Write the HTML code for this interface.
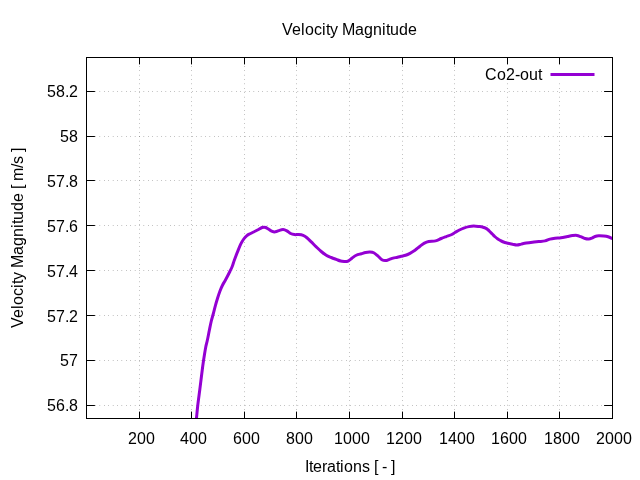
<!DOCTYPE html>
<html><head><meta charset="utf-8"><title>Velocity Magnitude</title><style>html,body{margin:0;padding:0;background:#fff}body{width:640px;height:480px;overflow:hidden}</style></head><body>
<svg width="640" height="480" viewBox="0 0 640 480" style="display:block">
<rect width="640" height="480" fill="#fff"/>
<g stroke="#000" stroke-width="0.6" stroke-dasharray="0.4 4" fill="none">
<path d="M86.5 91.5H612.5"/>
<path d="M86.5 136.5H612.5"/>
<path d="M86.5 180.5H612.5"/>
<path d="M86.5 225.5H612.5"/>
<path d="M86.5 270.5H612.5"/>
<path d="M86.5 315.5H612.5"/>
<path d="M86.5 360.5H612.5"/>
<path d="M86.5 405.5H612.5"/>
<path d="M139.5 418.5V57.5"/>
<path d="M191.5 418.5V57.5"/>
<path d="M244.5 418.5V57.5"/>
<path d="M296.5 418.5V57.5"/>
<path d="M349.5 418.5V57.5"/>
<path d="M402.5 418.5V57.5"/>
<path d="M454.5 418.5V57.5"/>
<path d="M507.5 418.5V57.5"/>
<path d="M559.5 418.5V57.5"/>
</g>
<rect x="470" y="58" width="142" height="25" fill="#fff"/>
<g stroke="#000" stroke-width="1" fill="none">
<path d="M86.5 91.5h8.4M612.5 91.5h-8.4"/>
<path d="M86.5 136.5h8.4M612.5 136.5h-8.4"/>
<path d="M86.5 180.5h8.4M612.5 180.5h-8.4"/>
<path d="M86.5 225.5h8.4M612.5 225.5h-8.4"/>
<path d="M86.5 270.5h8.4M612.5 270.5h-8.4"/>
<path d="M86.5 315.5h8.4M612.5 315.5h-8.4"/>
<path d="M86.5 360.5h8.4M612.5 360.5h-8.4"/>
<path d="M86.5 405.5h8.4M612.5 405.5h-8.4"/>
<path d="M139.5 418.5v-6.9M139.5 57.5v6.9"/>
<path d="M191.5 418.5v-6.9M191.5 57.5v6.9"/>
<path d="M244.5 418.5v-6.9M244.5 57.5v6.9"/>
<path d="M296.5 418.5v-6.9M296.5 57.5v6.9"/>
<path d="M349.5 418.5v-6.9M349.5 57.5v6.9"/>
<path d="M402.5 418.5v-6.9M402.5 57.5v6.9"/>
<path d="M454.5 418.5v-6.9M454.5 57.5v6.9"/>
<path d="M507.5 418.5v-6.9M507.5 57.5v6.9"/>
<path d="M559.5 418.5v-6.9M559.5 57.5v6.9"/>
</g>
<clipPath id="c"><rect x="86.5" y="57.5" width="526.0" height="361.0"/></clipPath>
<path d="M195.80 424.00C195.92 423.02 196.18 421.18 196.50 418.10C196.82 415.02 197.21 410.18 197.75 405.50C198.29 400.82 199.21 394.25 199.75 390.00C200.29 385.75 200.58 383.33 201.00 380.00C201.42 376.67 201.88 372.92 202.25 370.00C202.62 367.08 202.89 365.00 203.25 362.50C203.61 360.00 203.96 357.71 204.40 355.00C204.84 352.29 205.40 348.75 205.90 346.25C206.40 343.75 206.82 342.71 207.40 340.00C207.98 337.29 208.76 333.12 209.40 330.00C210.04 326.88 210.60 323.96 211.25 321.25C211.90 318.54 212.61 316.36 213.30 313.75C213.99 311.14 214.72 308.10 215.40 305.60C216.08 303.10 216.65 301.14 217.40 298.75C218.15 296.36 219.03 293.54 219.90 291.25C220.77 288.96 221.65 286.91 222.60 285.00C223.55 283.09 224.37 282.09 225.60 279.80C226.83 277.51 228.90 273.47 230.00 271.25C231.10 269.03 231.47 268.38 232.20 266.50C232.93 264.62 233.52 262.43 234.40 260.00C235.28 257.57 236.47 254.50 237.50 251.90C238.53 249.30 239.56 246.55 240.60 244.40C241.64 242.25 242.70 240.47 243.75 239.00C244.80 237.53 245.86 236.47 246.90 235.60C247.94 234.72 248.65 234.47 250.00 233.75C251.35 233.03 253.67 231.93 255.00 231.25C256.33 230.57 257.08 230.19 258.00 229.70C258.92 229.21 259.78 228.67 260.50 228.30C261.22 227.93 261.72 227.68 262.30 227.50C262.88 227.32 263.43 227.20 264.00 227.20C264.57 227.20 265.12 227.28 265.70 227.50C266.28 227.72 266.78 228.07 267.50 228.50C268.22 228.93 269.20 229.62 270.00 230.10C270.80 230.58 271.57 231.10 272.30 231.40C273.03 231.70 273.70 231.88 274.40 231.90C275.10 231.92 275.77 231.72 276.50 231.50C277.23 231.28 277.65 230.92 278.75 230.60C279.85 230.28 281.74 229.55 283.10 229.60C284.46 229.65 285.65 230.25 286.90 230.90C288.15 231.55 289.35 232.88 290.60 233.50C291.85 234.12 293.04 234.42 294.40 234.60C295.76 234.78 297.30 234.47 298.75 234.60C300.20 234.73 301.74 234.88 303.10 235.40C304.46 235.93 305.54 236.67 306.90 237.75C308.26 238.83 309.69 240.38 311.25 241.90C312.81 243.43 314.58 245.30 316.25 246.90C317.92 248.50 319.58 250.11 321.25 251.50C322.92 252.89 324.58 254.25 326.25 255.25C327.92 256.25 329.58 256.81 331.25 257.50C332.92 258.19 334.69 258.82 336.25 259.40C337.81 259.98 339.24 260.65 340.60 261.00C341.96 261.35 343.40 261.43 344.40 261.50C345.40 261.57 345.92 261.52 346.60 261.40C347.28 261.28 347.90 261.10 348.50 260.80C349.10 260.50 349.63 260.03 350.20 259.60C350.77 259.17 350.89 258.93 351.90 258.20C352.91 257.47 354.69 255.99 356.25 255.25C357.81 254.51 359.69 254.21 361.25 253.75C362.81 253.29 364.14 252.78 365.60 252.50C367.06 252.22 368.64 252.06 370.00 252.10C371.36 252.14 372.50 252.17 373.75 252.75C375.00 253.33 376.14 254.43 377.50 255.60C378.86 256.77 380.55 258.92 381.90 259.75C383.25 260.58 384.35 260.66 385.60 260.60C386.85 260.54 388.15 259.82 389.40 259.40C390.65 258.98 391.75 258.46 393.10 258.10C394.45 257.74 396.14 257.56 397.50 257.25C398.86 256.94 399.90 256.58 401.25 256.25C402.60 255.92 404.14 255.74 405.60 255.25C407.06 254.76 408.43 254.13 410.00 253.30C411.57 252.47 413.33 251.43 415.00 250.25C416.67 249.07 418.43 247.44 420.00 246.25C421.57 245.06 422.94 243.89 424.40 243.10C425.86 242.31 426.88 241.87 428.75 241.50C430.62 241.13 433.52 241.40 435.60 240.90C437.68 240.40 439.48 239.22 441.25 238.50C443.02 237.78 444.58 237.22 446.25 236.60C447.92 235.97 449.79 235.43 451.25 234.75C452.71 234.07 453.64 233.29 455.00 232.50C456.36 231.71 457.94 230.73 459.40 230.00C460.86 229.27 462.19 228.67 463.75 228.10C465.31 227.53 467.08 226.97 468.75 226.60C470.42 226.23 471.96 225.90 473.75 225.90C475.54 225.90 477.96 226.38 479.50 226.60C481.04 226.82 481.92 226.97 483.00 227.25C484.08 227.53 485.17 227.88 486.00 228.30C486.83 228.72 487.33 229.18 488.00 229.75C488.67 230.32 489.25 231.00 490.00 231.75C490.75 232.50 491.67 233.42 492.50 234.25C493.33 235.08 494.17 236.00 495.00 236.75C495.83 237.50 496.67 238.17 497.50 238.75C498.33 239.33 499.00 239.71 500.00 240.25C501.00 240.79 502.17 241.51 503.50 242.00C504.83 242.49 506.50 242.83 508.00 243.20C509.50 243.57 511.02 243.90 512.50 244.20C513.98 244.50 515.44 245.02 516.90 245.00C518.36 244.98 519.69 244.42 521.25 244.10C522.81 243.78 524.38 243.41 526.25 243.10C528.12 242.79 530.42 242.50 532.50 242.25C534.58 242.00 536.67 241.82 538.75 241.60C540.83 241.38 543.12 241.32 545.00 240.90C546.88 240.48 548.33 239.54 550.00 239.10C551.67 238.66 553.17 238.47 555.00 238.25C556.83 238.03 558.92 238.09 561.00 237.80C563.08 237.51 565.58 236.87 567.50 236.50C569.42 236.13 570.93 235.78 572.50 235.60C574.07 235.42 575.55 235.23 576.90 235.40C578.25 235.57 579.25 236.08 580.60 236.60C581.95 237.12 583.64 238.10 585.00 238.50C586.36 238.90 587.60 239.07 588.75 239.00C589.90 238.93 590.86 238.52 591.90 238.10C592.94 237.68 593.86 236.89 595.00 236.50C596.14 236.11 597.29 235.83 598.75 235.75C600.21 235.67 602.19 235.83 603.75 236.00C605.31 236.17 606.74 236.35 608.10 236.75C609.46 237.15 611.17 238.06 611.90 238.40C612.63 238.74 612.40 238.73 612.50 238.80" stroke="#9400d3" stroke-width="3" fill="none" stroke-linejoin="round" stroke-linecap="butt" clip-path="url(#c)"/>
<path d="M550.5 74.5H594.5" stroke="#9400d3" stroke-width="3" fill="none"/>
<rect x="86.5" y="57.5" width="526.0" height="361.0" fill="none" stroke="#000" stroke-width="1"/>
<g font-family="Liberation Sans, sans-serif" font-size="16px" fill="#000" style="will-change:transform">
<text x="47 56 65 69" y="97">58.2</text>
<text x="60 69" y="142">58</text>
<text x="47 56 65 69" y="187">57.8</text>
<text x="47 56 65 69" y="232">57.6</text>
<text x="47 56 65 69" y="277">57.4</text>
<text x="47 56 65 69" y="322">57.2</text>
<text x="60 69" y="366">57</text>
<text x="47 56 65 69" y="411">56.8</text>
<text x="128 137 146" y="444">200</text>
<text x="180 189 198" y="444">400</text>
<text x="233 242 251" y="444">600</text>
<text x="286 295 304" y="444">800</text>
<text x="334 343 352 361" y="444">1000</text>
<text x="386 395 404 413" y="444">1200</text>
<text x="439 448 457 466" y="444">1400</text>
<text x="491 500 509 518" y="444">1600</text>
<text x="544 553 562 571" y="444">1800</text>
<text x="596 605 614 623" y="444">2000</text>
<text x="282 292 301 305 314 322 326 330 338 342 355 364 373 382 386 390 399 408" y="35">Velocity Magnitude</text>
<text x="305 309 313 322 327 336 340 344 353 362 370 374 378 382 387 391" y="472">Iterations [ - ]</text>
<text x="485 497 506 515 520 529 538" y="80">Co2-out</text>
<text x="-90 -80 -71 -67 -58 -50 -46 -42 -34 -30 -17 -8 1 10 14 18 27 36 45 49 53 57 70 74 82 86" y="0" transform="translate(23 238) rotate(-90)">Velocity Magnitude [ m/s ]</text>
</g>
</svg>
</body></html>
